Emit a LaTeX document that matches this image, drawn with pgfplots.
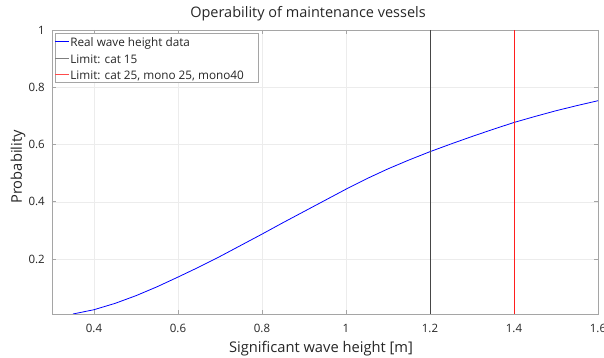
\documentclass[border=0pt]{standalone}
\usepackage{fontspec}
\setmainfont{Open Sans}
\usepackage{pgfplots}
\pgfplotsset{compat=1.18}

\definecolor{gridgray}{RGB}{236,236,236}
\definecolor{axisgray}{RGB}{165,165,165}
\definecolor{limgray}{RGB}{70,70,70}
\definecolor{limred}{RGB}{255,30,30}
\definecolor{wavblue}{RGB}{0,0,255}
\definecolor{labelblack}{RGB}{38,38,38}

% short line sample in the legend, as a thin filled bar of a given colour
\pgfplotsset{
  short line/.style={legend image code/.code={%
    \pgfsetfillcolor{#1}%
    \fill[fill=#1, draw=none] (0pt,-0.4pt) rectangle (14pt,0.4pt);}},
}

\begin{document}
\begin{tikzpicture}
\begin{axis}[
  scale only axis,
  width=546pt, height=284pt,
  xmin=0.3, xmax=1.6,
  ymin=0.008, ymax=1,
  xtick={0.4,0.6,0.8,1,1.2,1.4,1.6},
  ytick={0.2,0.4,0.6,0.8,1},
  xticklabels={0.4,0.6,0.8,1,1.2,1.4,1.6},
  yticklabels={0.2,0.4,0.6,0.8,1},
  grid=major,
  major grid style={gridgray, line width=0.5pt},
  axis line style={axisgray, line width=0.7pt},
  tick style={axisgray, line width=0.6pt},
  tick align=inside,
  major tick length=4pt,
  tick label style={font=\fontsize{11.5}{13}\selectfont, text=labelblack},
  xticklabel style={anchor=base, yshift=-19pt},
  yticklabel style={anchor=east, inner xsep=0pt, xshift=-7pt},
  /pgf/number format/assume math mode=true,
  title={Operability of maintenance vessels},
  title style={font=\fontsize{14.5}{16}\selectfont, text=labelblack,
    at={(axis description cs:0.4689,1.0246)}, anchor=base},
  xlabel={Significant wave height [m]},
  ylabel={Probability},
  xlabel style={font=\fontsize{14.7}{16}\selectfont, text=labelblack,
    at={(axis description cs:0.4927,-0.1373)}, anchor=base},
  ylabel style={font=\fontsize{14.7}{16}\selectfont, text=labelblack,
    at={(axis description cs:-0.0623,0.518)}, anchor=center},
  legend style={font=\fontsize{11.75}{13}\selectfont,
    draw=axisgray, line width=0.7pt,
    at={(axis description cs:0.0055,0.9894)}, anchor=north west,
    inner xsep=0pt, inner ysep=1pt, row sep=3pt, column sep=0pt,
    nodes={inner xsep=1pt, inner ysep=0pt, text height=12.2pt, text depth=1.5pt}},
  legend cell align=left,
]
\addplot[draw=wavblue, line width=0.8pt, short line=wavblue] coordinates {
  (0.35,0.008) (0.40,0.023) (0.45,0.045) (0.50,0.072) (0.55,0.103)
  (0.60,0.137) (0.65,0.172) (0.70,0.209) (0.75,0.248) (0.80,0.287)
  (0.85,0.327) (0.90,0.366) (0.95,0.405) (1.00,0.444) (1.05,0.481)
  (1.10,0.515) (1.15,0.546) (1.20,0.575) (1.25,0.602) (1.30,0.628)
  (1.35,0.653) (1.40,0.677) (1.45,0.698) (1.50,0.718) (1.55,0.736)
  (1.60,0.753)
};
\addlegendentry{\textcolor{labelblack}{Real wave height data}}
\addplot[draw=limgray, line width=0.7pt, short line=limgray!70] coordinates {(1.2,0.008) (1.2,1)};
\addlegendentry{\textcolor{labelblack}{Limit: cat 15}}
\addplot[draw=limred, line width=0.7pt, short line=limred!80] coordinates {(1.4,0.008) (1.4,1)};
\addlegendentry{\textcolor{labelblack}{Limit: cat 25, mono 25, mono40}\rule{13pt}{0pt}}
\end{axis}
\pgfresetboundingbox
\path[use as bounding box] (-52pt,-44pt) rectangle (552pt,314pt);
\end{tikzpicture}
\end{document}
